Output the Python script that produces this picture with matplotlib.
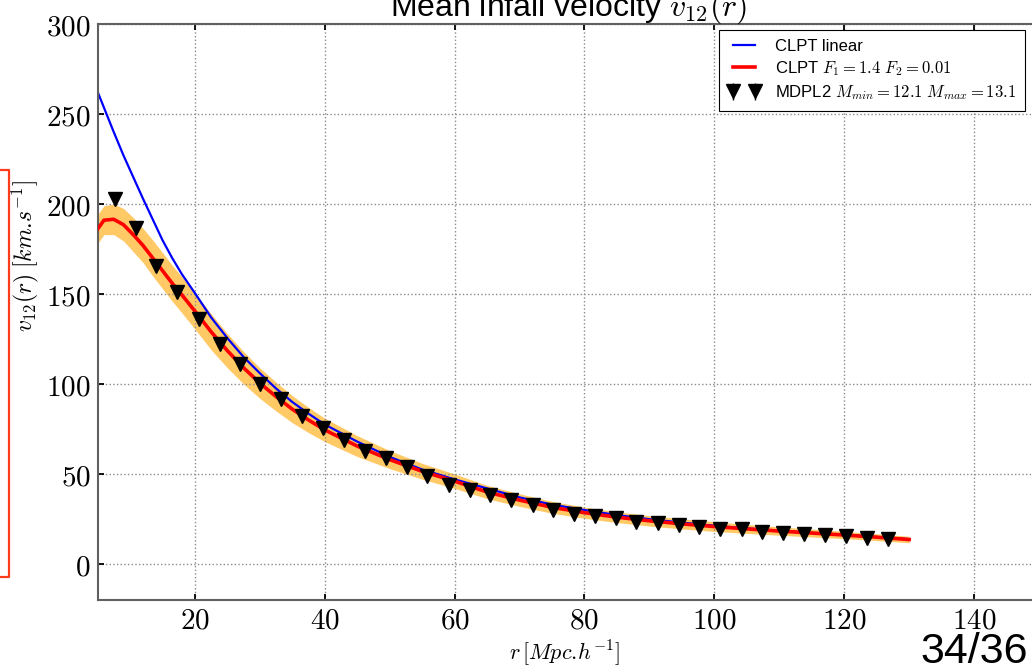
import matplotlib
matplotlib.use("Agg")
import matplotlib.pyplot as plt
from matplotlib.ticker import FuncFormatter
from matplotlib.lines import Line2D
import numpy as np

plt.rcParams['mathtext.fontset'] = 'cm'
plt.rcParams['font.family'] = ['Liberation Sans', 'DejaVu Sans']

# ---------------- data ----------------
title = r"Mean infall velocity $v_{12}(r)$"
xlabel = r"$r\,[Mpc.\!h^{-1}]$"
ylabel = r"$v_{12}(r)\;[km.\!s^{-1}]$"

label_linear = "CLPT linear"
label_clpt = r"CLPT $F_1 = 1.4\ F_2 = 0.01$"
label_sim = r"MDPL2 $M_{min} = 12.1\ M_{max} = 13.1$"

r_model = [5, 6, 7.5, 9, 10.5, 12, 13.5, 15, 16.5, 18, 20, 22.5, 25, 27.5, 30,
           32.5, 35, 37.5, 40, 45, 50, 55, 60, 65, 70, 75, 80, 85, 90, 95, 100,
           105, 110, 115, 120, 125, 130]
v_linear = [262.5, 253.5, 240, 227, 215, 203, 191.5, 180, 170, 161, 150.5, 137,
            125.5, 115, 106, 97.5, 90, 83.5, 77.5, 68, 59.5, 52.5, 47, 42, 37,
            33, 30, 27.2, 24.9, 23, 21.3, 19.8, 18.5, 17.3, 16.2, 15, 13.8]
v_clpt = [186, 191, 191.5, 188.5, 183, 177, 170, 163, 156, 149.5, 140.5, 129,
          118.5, 109, 100.5, 93, 86, 80, 74.5, 65.5, 58, 51.5, 46, 40, 35.5,
          31.5, 28.5, 26, 24, 22.3, 20.8, 19.5, 18.3, 17.2, 16.1, 14.9, 13.6]
v_band_half = [8, 8, 8.5, 9, 9.5, 9.5, 10, 10, 10, 10, 10, 10, 9.5, 9, 8.5, 8,
               7.5, 7, 6.5, 5.8, 5, 4.4, 4, 3.7, 3.5, 3.3, 3.1, 3, 2.9, 2.8,
               2.7, 2.5, 2.3, 2.2, 2, 1.9, 1.8]

r_sim = [7.7, 10.9, 14.0, 17.3, 20.6, 23.8, 26.9, 30.1, 33.3, 36.5, 39.8, 43.0,
         46.2, 49.5, 52.6, 55.7, 59.1, 62.3, 65.5, 68.7, 72.0, 75.1, 78.4, 81.6,
         84.9, 88.0, 91.3, 94.5, 97.7, 100.9, 104.2, 107.3, 110.6, 113.8, 117.0,
         120.3, 123.5, 126.7]
v_sim = [203, 186.5, 165.7, 151.3, 136, 122, 111, 100, 91.5, 82.5, 75.5, 69,
         63, 58.7, 54, 49.1, 43.9, 41.3, 38.3, 35.7, 32.8, 30.2, 27.6, 26.5,
         25.4, 23.5, 22.6, 21.9, 20.4, 19.4, 19.4, 18.0, 17.0, 16.5, 16.3, 15.4,
         14.3, 13.9]
v_sim_err = [3.4, 3.4, 3.3, 3.3, 3.2, 3.2, 3.2, 3.2, 3.1, 3.1, 3.1, 3.1, 3.1,
             3.1, 3.0, 3.0, 3.0, 3.0, 3.0, 3.0, 3.0, 3.0, 3.0, 3.0, 3.0, 3.0,
             3.0, 3.0, 3.0, 3.0, 3.0, 3.0, 3.0, 3.0, 3.0, 3.0, 3.0, 3.0]

x_ticks = [20, 40, 60, 80, 100, 120, 140]
y_ticks = [0, 50, 100, 150, 200, 250, 300]

# ---------------- figure ----------------
W, H = 1032, 665
fig = plt.figure(figsize=(W / 100, H / 100), dpi=100)
ax_l, ax_r, ax_t, ax_b = 97.5, 1039.0, 24.0, 600.0
aw, ah = ax_r - ax_l, ax_b - ax_t
ax = fig.add_axes([ax_l / W, 1 - ax_b / H, aw / W, ah / H])

rm = np.array(r_model)
vc = np.array(v_clpt)
hw = np.array(v_band_half)
ax.fill_between(rm, vc - hw, vc + hw, color='orange', alpha=0.6, lw=0, zorder=1)
ax.plot(r_model, v_linear, color='blue', lw=1.6, zorder=2, label=label_linear)
ax.plot(r_model, v_clpt, color='red', lw=2.6, zorder=3, label=label_clpt)
ax.errorbar(r_sim, v_sim, yerr=v_sim_err, fmt='v', color='black', ms=9.5,
            capsize=0, elinewidth=1.0, zorder=4, label=label_sim)

ax.set_xlim(5, 150)
ax.set_ylim(-20, 300)
ax.set_xticks(x_ticks)
ax.set_yticks(y_ticks)
fmt = FuncFormatter(lambda v, p: r"$%g$" % v)
ax.xaxis.set_major_formatter(fmt)
ax.yaxis.set_major_formatter(fmt)
ax.tick_params(direction='in', length=4, width=1.3, color='black',
               labelsize=21, top=True, right=True, pad=5)
ax.grid(True, linestyle=':', color='#8a8a8a', lw=1.0)
for s in ax.spines.values():
    s.set_color('#606060')
    s.set_linewidth(1.5)

ax.set_title(title, fontsize=23, pad=6)
ax.set_xlabel(xlabel, fontsize=16)
ax.set_ylabel(ylabel, fontsize=17)
ax.xaxis.set_label_coords((565 - ax_l) / aw, -(638 - ax_b) / ah)
ax.yaxis.set_label_coords(-(ax_l - 41) / aw, (ax_b - 256) / ah)

leg = ax.legend(loc='upper right',
                bbox_to_anchor=((1025 - ax_l) / aw, (ax_b - 30) / ah),
                borderaxespad=0, fontsize=12, fancybox=False, framealpha=1,
                edgecolor='black', handlelength=1.9, labelspacing=0.3,
                numpoints=2, borderpad=0.55, handletextpad=0.9)
leg.get_frame().set_linewidth(0.8)

# slide annotation: red bracket on the left and page number
fig.add_artist(Line2D([-5 / W, 9 / W, 9 / W, -5 / W],
                      [1 - 170 / H, 1 - 170 / H, 1 - 577 / H, 1 - 577 / H],
                      transform=fig.transFigure, color='#ff3a1e', lw=1.6))
fig.text(920 / W, 1 - 663 / H, "34/36", fontsize=31, family='Liberation Sans',
         ha='left', va='baseline')

fig.savefig("out.png", dpi=100)
